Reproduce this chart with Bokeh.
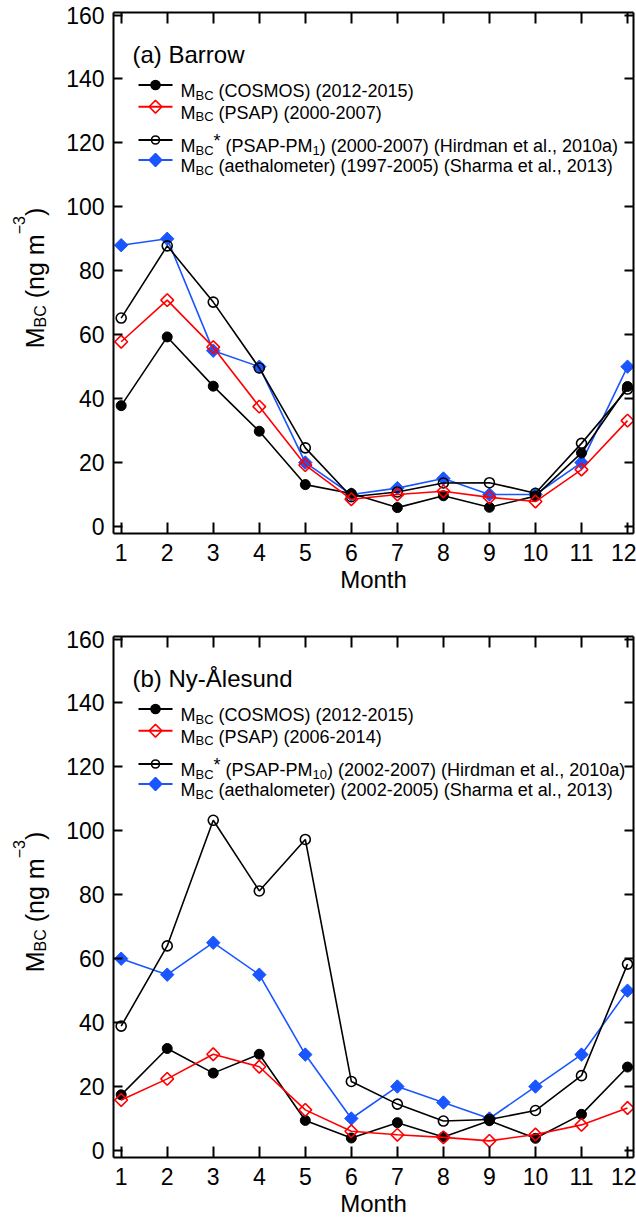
import numpy as np
from bokeh.plotting import figure
from bokeh.models import Range1d, LinearAxis, FixedTicker, Label, CustomLabelingPolicy
from bokeh.core.properties import value
from bokeh.layouts import column, row
from bokeh.embed import file_html
from bokeh.resources import INLINE

# ---------------- data ----------------
months = [1, 2, 3, 4, 5, 6, 7, 8, 9, 10, 11, 12]
y_ticks = [0, 20, 40, 60, 80, 100, 120, 140, 160]

barrow_cosmos = [37.8, 59.3, 43.9, 29.8, 13.1, 10.3, 5.9, 9.6, 6.0, 9.5, 23.0, 43.8]
barrow_psap = [57.8, 70.8, 56.1, 37.5, 19.2, 8.5, 10.0, 11.0, 9.1, 7.8, 17.8, 33.1]
barrow_psap_pm = [65.2, 87.8, 70.2, 49.6, 24.6, 9.3, 10.8, 13.6, 13.7, 10.4, 26.0, 43.0]
barrow_aeth = [88, 90, 55, 50, 20, 10, 12, 15, 10, 10, 20, 50]

ny_cosmos = [17.4, 31.9, 24.2, 30.1, 9.4, 3.9, 8.7, 4.2, 9.3, 3.8, 11.3, 26.1]
ny_psap = [15.8, 22.4, 30.1, 26.2, 12.7, 6.0, 4.9, 4.1, 3.0, 5.0, 8.0, 13.3]
ny_psap_pm = [38.9, 64.0, 103.3, 81.2, 97.3, 21.6, 14.5, 9.2, 9.7, 12.5, 23.4, 58.3]
ny_aeth = [60, 55, 65, 55, 30, 10, 20, 15, 10, 20, 30, 50]

FONT = "Liberation Sans"
BLUE = "#1a56ff"
RED = "#ff0000"

# Helvetica / Liberation Sans advance widths (1/1000 em)
W = {' ': 278, '(': 333, ')': 333, '*': 389, ',': 278, '-': 333, '.': 278,
     'A': 667, 'B': 667, 'C': 722, 'D': 722, 'E': 667, 'H': 722, 'M': 833,
     'N': 722, 'O': 778, 'P': 667, 'S': 667, 'Å': 667,
     'a': 556, 'b': 556, 'c': 500, 'd': 556, 'e': 556, 'g': 556, 'h': 556,
     'i': 222, 'k': 500, 'l': 222, 'm': 833, 'n': 556, 'o': 556, 'r': 333,
     's': 500, 't': 278, 'u': 556, 'w': 722, 'y': 500, '−': 584}
for d in "0123456789":
    W[d] = 556


def tw(s, size):
    return sum(W.get(c, 556) for c in s) * size / 1000.0


FW, FH = 520, 521
YLAB_W = 62
NO_LABELS = CustomLabelingPolicy(code="return new indices.constructor(indices.size)")


def segments(segs, size, sub_size, sub_shift, sup_shift):
    """Return (pos_along, shift, text, fontsize) pieces of a rich text line."""
    pos = 0.0
    out = []
    for txt, kind in segs:
        fs = size if kind in ("n", "supn") else sub_size
        shift = 0.0
        if kind == "sub":
            shift = -sub_shift
        elif kind in ("sup", "supn"):
            shift = sup_shift
        stripped = txt.lstrip(" ")
        pos += tw(txt[: len(txt) - len(stripped)], fs)
        out.append((pos, shift, stripped, fs))
        pos += tw(stripped, fs)
    return out, pos


def legend_text(p, x0, y0, segs):
    parts, _ = segments(segs, 18, 13, 4, 5)
    for pos, shift, txt, fs in parts:
        p.add_layout(Label(x=x0 + pos, y=y0 + shift, x_range_name="px",
                           y_range_name="px", text=txt, text_font=FONT,
                           text_font_size=f"{fs}px", text_color="black",
                           text_align="left", text_baseline="alphabetic"))


def make_ylabel_fig(top_border, bottom_border):
    # same frame height / borders as the panel so the two frames line up
    q = figure(frame_width=YLAB_W, frame_height=FH, output_backend="svg",
               toolbar_location=None, x_range=Range1d(0, YLAB_W),
               y_range=Range1d(0, FH), min_border_left=0, min_border_right=0,
               min_border_top=top_border, min_border_bottom=bottom_border,
               x_axis_type=None, y_axis_type=None, outline_line_color=None,
               background_fill_color="white", border_fill_color="white")
    q.xgrid.visible = False
    q.ygrid.visible = False
    ysegs = [("M", "n"), ("BC", "sub"), (" (ng m", "n"), ("−3", "sup"), (")", "n")]
    parts, L = segments(ysegs, 25, 16, 6, 16)
    base_x = 34
    y0 = FH / 2 - 5 - L / 2
    for pos, shift, txt, fs in parts:
        q.text(x=[base_x - shift], y=[y0 + pos], text=[txt], angle=np.pi / 2,
               text_font=value(FONT), text_font_size=value(f"{fs}px"),
               text_color="black", text_align="left", text_baseline="alphabetic")
    return q


def make_panel(title, series, legend_rows, top_border, bottom_border):
    p = figure(frame_width=FW, frame_height=FH, output_backend="svg",
               toolbar_location=None, x_range=Range1d(0.833, 12.13),
               y_range=Range1d(-2.2, 160.8), min_border_left=113 - YLAB_W,
               min_border_right=3, min_border_top=top_border,
               min_border_bottom=bottom_border, x_axis_type=None,
               y_axis_type=None, background_fill_color="white",
               border_fill_color="white", outline_line_color=None)
    p.xgrid.visible = False
    p.ygrid.visible = False
    p.extra_x_ranges = {"px": Range1d(0, FW)}
    p.extra_y_ranges = {"px": Range1d(0, FH)}

    def style(ax, labels, tick_in):
        ax.axis_line_width = 2
        ax.axis_line_color = "black"
        ax.major_tick_in = tick_in
        ax.major_tick_out = 0
        ax.major_tick_line_width = 2
        ax.major_tick_line_color = "black"
        ax.minor_tick_line_color = None
        ax.major_label_text_font = FONT
        ax.major_label_text_color = "black"
        if labels:
            ax.major_label_text_font_size = "23px"
        else:
            ax.major_label_text_font_size = "0px"
            ax.major_label_policy = NO_LABELS
            ax.major_label_standoff = 0

    xt = FixedTicker(ticks=months)
    yt = FixedTicker(ticks=y_ticks)
    xb = LinearAxis(ticker=xt, axis_label="Month")
    style(xb, True, 11)
    xb.major_label_standoff = 10
    xb.axis_label_text_font = FONT
    xb.axis_label_text_font_size = "24px"
    xb.axis_label_text_font_style = "normal"
    xb.axis_label_text_color = "black"
    xb.axis_label_standoff = 2
    p.add_layout(xb, "below")
    xa = LinearAxis(ticker=xt)
    style(xa, False, 11)
    p.add_layout(xa, "above")
    yl = LinearAxis(ticker=yt)
    style(yl, True, 9)
    yl.major_label_standoff = 9
    p.add_layout(yl, "left")
    yr = LinearAxis(ticker=yt)
    style(yr, False, 9)
    p.add_layout(yr, "right")

    cosmos, psap, psap_pm, aeth = series
    # draw order: aethalometer, PSAP-PM, COSMOS, PSAP
    p.line(months, aeth, line_color=BLUE, line_width=1.6)
    p.scatter(months, aeth, marker="square", angle=np.pi / 4, size=9.5,
              fill_color=BLUE, line_color=BLUE, line_width=1)
    p.line(months, psap_pm, line_color="black", line_width=1.6)
    p.scatter(months, psap_pm, marker="circle", size=10, fill_color=None,
              line_color="black", line_width=1.6)
    p.line(months, cosmos, line_color="black", line_width=1.6)
    p.scatter(months, cosmos, marker="circle", size=10, fill_color="black",
              line_color="black")
    p.line(months, psap, line_color=RED, line_width=1.6)
    p.scatter(months, psap, marker="square", angle=np.pi / 4, size=9,
              fill_color=None, line_color=RED, line_width=1.6)

    def py(from_top):
        return FH - from_top

    p.add_layout(Label(x=19, y=py(41.5), x_range_name="px", y_range_name="px",
                       text=title, text_font=FONT, text_font_size="24px",
                       text_color="black", text_align="left",
                       text_baseline="alphabetic"))

    # legend
    row_from_top = [72.5, 94.2, 127.5, 147.5]
    styles = [dict(color="black", marker="circle", fill="black", size=9),
              dict(color=RED, marker="square", fill=None, size=9),
              dict(color="black", marker="circle", fill=None, size=8),
              dict(color=BLUE, marker="square", fill=BLUE, size=9)]
    for rf, st, segs in zip(row_from_top, styles, legend_rows):
        yy = py(rf)
        p.line([25, 59], [yy, yy], x_range_name="px", y_range_name="px",
               line_color=st["color"], line_width=2)
        p.scatter([42], [yy], x_range_name="px", y_range_name="px",
                  marker=st["marker"], size=st["size"],
                  angle=np.pi / 4 if st["marker"] == "square" else 0,
                  fill_color=st["fill"], line_color=st["color"], line_width=1.6)
        legend_text(p, 67, yy - 6, segs)
    return p


rows_a = [
    [("M", "n"), ("BC", "sub"), (" (COSMOS) (2012-2015)", "n")],
    [("M", "n"), ("BC", "sub"), (" (PSAP) (2000-2007)", "n")],
    [("M", "n"), ("BC", "sub"), ("*", "supn"), (" (PSAP-PM", "n"), ("1", "sub"),
     (") (2000-2007) (Hirdman et al., 2010a)", "n")],
    [("M", "n"), ("BC", "sub"), (" (aethalometer) (1997-2005) (Sharma et al., 2013)", "n")],
]
rows_b = [
    [("M", "n"), ("BC", "sub"), (" (COSMOS) (2012-2015)", "n")],
    [("M", "n"), ("BC", "sub"), (" (PSAP) (2006-2014)", "n")],
    [("M", "n"), ("BC", "sub"), ("*", "supn"), (" (PSAP-PM", "n"), ("10", "sub"),
     (") (2002-2007) (Hirdman et al., 2010a)", "n")],
    [("M", "n"), ("BC", "sub"), (" (aethalometer) (2002-2005) (Sharma et al., 2013)", "n")],
]

H1, H2 = 625, 596
TB1, TB2 = 12, 11
BB1, BB2 = H1 - TB1 - FH, H2 - TB2 - FH
p1 = make_panel("(a) Barrow", (barrow_cosmos, barrow_psap, barrow_psap_pm, barrow_aeth),
                rows_a, TB1, BB1)
p2 = make_panel("(b) Ny-Ålesund", (ny_cosmos, ny_psap, ny_psap_pm, ny_aeth),
                rows_b, TB2, BB2)
q1 = make_ylabel_fig(TB1, BB1)
q2 = make_ylabel_fig(TB2, BB2)

layout = column(row(q1, p1, spacing=0), row(q2, p2, spacing=0), spacing=0)
open("out.html", "w").write(file_html(layout, INLINE))
